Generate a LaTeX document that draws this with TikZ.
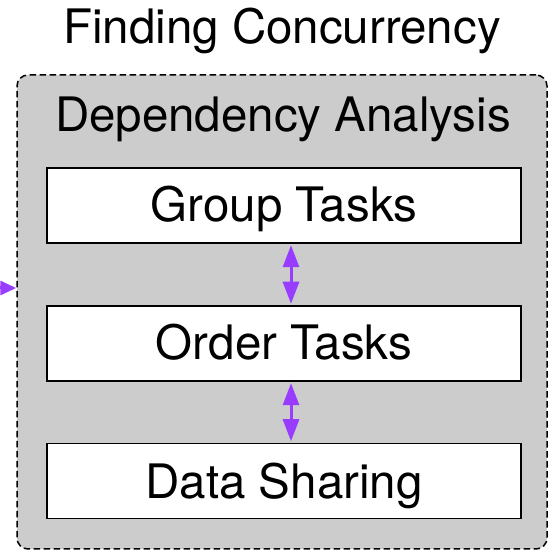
\documentclass[tikz,border=0pt]{standalone}
\usepackage{fontspec}
\setmainfont{TeX Gyre Heros}
\usetikzlibrary{arrows.meta}
\definecolor{panelgray}{RGB}{204,204,204}
\definecolor{linkpurple}{RGB}{152,60,255}
\tikzset{
  bigtext/.style={font=\fontsize{47.5}{56}\selectfont},
  panel/.style={draw=black, fill=panelgray, line width=1.5pt,
    dash pattern=on 6.5pt off 3.5pt, rounded corners=11pt,
    minimum width=530pt, minimum height=474pt, inner sep=0pt},
  taskbox/.style={draw=black, fill=white, line width=1.5pt,
    minimum width=474pt, minimum height=75pt, inner sep=0pt},
  link/.style={draw=linkpurple, line width=3pt,
    {Triangle[length=22pt,width=16pt]}-{Triangle[length=22pt,width=16pt]},
    shorten <=1.5pt, shorten >=1.5pt},
  feed/.style={draw=linkpurple, line width=3pt,
    -{Triangle[length=16pt,width=14pt]}}
}
\begin{document}
\begin{tikzpicture}[x=1pt,y=1pt]
\useasboundingbox (0,0) rectangle (548,550);
% outer dashed panel
\node[panel] (dep) at (282,238) {};
% headings
\node[bigtext, anchor=base] (title) at (282,506) {Finding Concurrency};
\node[bigtext, anchor=base] (deptitle) at (283,418) {Dependency Analysis};
% task boxes
\node[taskbox] (group) at (284,344.5) {};
\node[taskbox] (order) at (284,206.5) {};
\node[taskbox] (share) at (284,69) {};
\node[bigtext, anchor=base] (grouptxt) at (284,328) {Group Tasks};
\node[bigtext, anchor=base] (ordertxt) at (284,190) {Order Tasks};
\node[bigtext, anchor=base] (sharetxt) at (284,52) {Data Sharing};
% links between the tasks
\draw[link] ([xshift=7pt]group.south) -- ([xshift=7pt]order.north);
\draw[link] ([xshift=7pt]order.south) -- ([xshift=7pt]share.north);
% incoming arrow from the left
\coordinate (src) at (-30,262);
\draw[feed] (src) -- (dep.west |- src);
\end{tikzpicture}
\end{document}
